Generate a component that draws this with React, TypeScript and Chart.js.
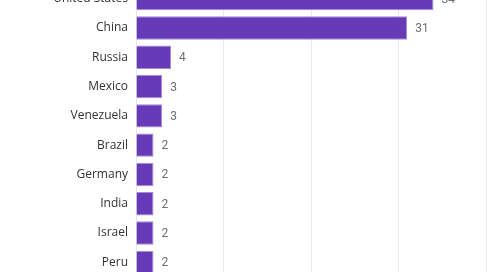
import React, { useEffect, useRef } from "react";
import { Chart, registerables } from "chart.js";

Chart.register(...registerables);

const countries = ["United States", "China", "Russia", "Mexico", "Venezuela", "Brazil", "Germany", "India", "Israel", "Peru"];
const counts = [34, 31, 4, 3, 3, 2, 2, 2, 2, 2];
const xTicks = [0, 10, 20, 30, 40];

const valueLabels = {
  id: "valueLabels",
  afterDatasetsDraw(chart: any) {
    const ctx = chart.ctx;
    const meta = chart.getDatasetMeta(0);
    ctx.save();
    ctx.font = "12px Roboto";
    ctx.fillStyle = "#707070";
    ctx.textAlign = "left";
    ctx.textBaseline = "middle";
    meta.data.forEach((el: any, i: number) => {
      ctx.fillText(String(counts[i]), el.x + 8, el.y + 1);
    });
    ctx.restore();
  },
};

export default function App() {
  const ref = useRef<HTMLCanvasElement | null>(null);
  useEffect(() => {
    if (!ref.current) return;
    const chart = new Chart(ref.current, {
      type: "bar",
      data: {
        labels: countries,
        datasets: [
          {
            data: counts,
            backgroundColor: "#673ab7",
            borderColor: "#a58bdc",
            borderWidth: 1,
            barPercentage: 0.8,
            categoryPercentage: 1,
          },
        ],
      },
      options: {
        indexAxis: "y",
        responsive: false,
        animation: false,
        layout: { padding: { left: 0, right: 12, top: 0, bottom: 0 } },
        plugins: { legend: { display: false }, tooltip: { enabled: false } },
        scales: {
          x: {
            min: xTicks[0],
            max: xTicks[xTicks.length - 1],
            afterBuildTicks: (scale: any) => {
              scale.ticks = xTicks.map((v) => ({ value: v }));
            },
            ticks: { display: false },
            grid: { color: "#e8e8e8", drawTicks: false, lineWidth: 1 },
            border: { display: false },
            afterFit: (scale: any) => {
              scale.height = 0;
              scale.paddingLeft = 0;
              scale.paddingRight = 0;
            },
          },
          y: {
            grid: { display: false, drawTicks: false },
            border: { display: false },
            ticks: { padding: 8, color: "#333333", font: { family: "'Open Sans'", size: 12 } },
            afterFit: (scale: any) => {
              scale.width = 136;
              scale.paddingTop = 0;
              scale.paddingBottom = 0;
            },
          },
        },
      },
      plugins: [valueLabels],
    });
    return () => chart.destroy();
  }, []);
  return (
    <div style={{ position: "fixed", left: 0, top: 0, width: 498, height: 272, overflow: "hidden", background: "#fff" }}>
      <canvas ref={ref} width={498} height={293} style={{ position: "absolute", left: 0, top: -16 }} />
    </div>
  );
}
